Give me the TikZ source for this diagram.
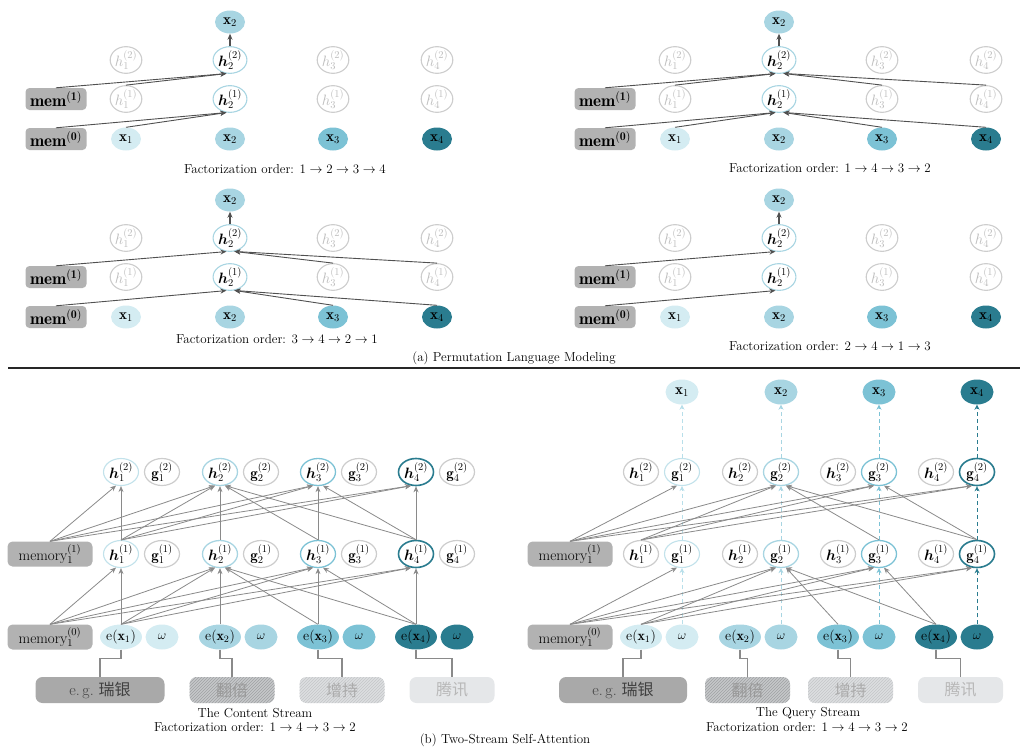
\RequirePackage{fix-cm}
\documentclass[tikz,border=0pt]{standalone}
\usepackage{fontspec}
\usepackage{bm}
\newfontfamily\cjk{Noto Sans CJK SC}
\usetikzlibrary{shapes.geometric, arrows.meta, patterns}

\definecolor{tokA}{HTML}{D4ECF2}
\definecolor{tokB}{HTML}{A8D5E2}
\definecolor{tokC}{HTML}{7CC2D5}
\definecolor{tokD}{HTML}{2A7C8F}
\definecolor{ringA}{HTML}{C2E2EB}
\definecolor{dashA}{HTML}{B8DFEA}
\definecolor{ringgray}{HTML}{CDCDCD}
\definecolor{ringtext}{HTML}{BDBDBD}
\definecolor{memgray}{HTML}{B2B2B2}
\definecolor{arrowdark}{HTML}{505050}
\definecolor{arrowgray}{HTML}{8A8A8A}
\definecolor{wordA}{HTML}{A9A9A9}
\definecolor{wordB}{HTML}{C6C8CA}
\definecolor{wordBline}{HTML}{9FA1A3}
\definecolor{wordC}{HTML}{DCDEE0}
\definecolor{wordCline}{HTML}{C4C6C8}
\definecolor{wordD}{HTML}{E5E7E9}

\tikzstyle{token} = [ellipse, inner sep=0pt, minimum width=30pt, minimum height=23pt, font=\fontsize{15}{17}\selectfont]
\tikzstyle{ring} = [ellipse, inner sep=0pt, minimum width=30pt, minimum height=23pt, draw=ringgray, line width=1.1pt, fill=white, text=ringtext, font=\fontsize{15}{17}\selectfont]
\tikzstyle{membox} = [rectangle, rounded corners=4pt, minimum width=61pt, minimum height=22pt, inner sep=0pt, fill=memgray, font=\fontsize{17}{19}\selectfont]
\tikzstyle{membig} = [membox, minimum width=85pt, minimum height=25pt, rounded corners=5pt, font=\fontsize{15}{17}\selectfont]
\tikzstyle{cell} = [ellipse, inner sep=0pt, minimum width=35pt, minimum height=27pt, line width=1.2pt, fill=white, font=\fontsize{15}{17}\selectfont]
\tikzstyle{embed} = [ellipse, inner sep=0pt, minimum width=33pt, minimum height=25pt, font=\fontsize{14}{16}\selectfont]
\tikzstyle{wordbox} = [rectangle, rounded corners=7pt, minimum width=85pt, minimum height=26pt, inner sep=0pt, font=\fontsize{16}{18}\selectfont]
\tikzstyle{caption} = [font=\fontsize{13}{15}\selectfont]
\tikzstyle{ctx} = [-{Stealth[length=6pt,width=5pt]}, draw=arrowdark, line width=0.9pt]
\tikzstyle{attn} = [-{Stealth[length=6pt,width=5pt]}, draw=arrowgray, line width=0.8pt]
\tikzstyle{qdash} = [-{Stealth[length=5pt,width=5pt]}, dashed, dash pattern=on 4pt off 3pt, line width=1pt]
\tikzstyle{feed} = [draw=arrowgray, line width=1.3pt]

% one panel of the permutation figure
\newcommand{\permnodes}{%
  \node[token, fill=tokB] (out) at (230,22) {$\mathbf{x}_2$};
  \foreach \i/\px in {1/126, 3/333, 4/437} {
    \node[ring] (h\i2) at (\px,60) {$h_\i^{(2)}$};
    \node[ring] (h\i1) at (\px,99) {$h_\i^{(1)}$};
  }
  \node[ring, draw=tokB, text=black] (h22) at (230,60) {$\bm{h}_2^{(2)}$};
  \node[ring, draw=tokB, text=black] (h21) at (230,99) {$\bm{h}_2^{(1)}$};
  \foreach \i/\px/\c in {1/126/tokA, 2/230/tokB, 3/333/tokC, 4/437/tokD}
    \node[token, fill=\c] (x\i) at (\px,139) {$\mathbf{x}_\i$};
  \node[membox] (m1) at (56,99) {$\mathbf{mem}^{\mathbf{(1)}}$};
  \node[membox] (m0) at (56,139) {$\mathbf{mem}^{\mathbf{(0)}}$};
  \draw[ctx, line width=1.2pt] (h22.north) -- (out.south);
}

\begin{document}
\begin{tikzpicture}[x=1pt, y=-1pt]
    \useasboundingbox (0,0) rectangle (1027,747);

    % (a) top left
    \begin{scope}[name prefix=tl-]
      \permnodes
      \draw[ctx] (m0.north) -- (h21.-105);
      \draw[ctx] (x1.north) -- (h21.-105);
      \draw[ctx] (m1.north) -- (h22.-105);
      \draw[ctx] (h11.north) -- (h22.-105);
      \node[caption] (order) at (285,169) {Factorization order: $1\rightarrow2\rightarrow3\rightarrow4$};
    \end{scope}

    % (a) top right
    \begin{scope}[shift={(549,0)}, name prefix=tr-]
      \permnodes
      \draw[ctx] (m0.north) -- (h21.-105);
      \draw[ctx] (x1.north) -- (h21.-105);
      \draw[ctx] (x3.north) -- (h21.-72);
      \draw[ctx] (x4.north) -- (h21.-72);
      \draw[ctx] (m1.north) -- (h22.-105);
      \draw[ctx] (h11.north) -- (h22.-105);
      \draw[ctx] (h31.north) -- (h22.-72);
      \draw[ctx] (h41.north) -- (h22.-72);
      \node[caption] (order) at (281,168) {Factorization order: $1\rightarrow4\rightarrow3\rightarrow2$};
    \end{scope}

    % (a) bottom left
    \begin{scope}[shift={(0,178)}, name prefix=bl-]
      \permnodes
      \draw[ctx] (m0.north) -- (h21.-105);
      \draw[ctx] (x3.north) -- (h21.-72);
      \draw[ctx] (x4.north) -- (h21.-72);
      \draw[ctx] (m1.north) -- (h22.-105);
      \draw[ctx] (h31.north) -- (h22.-72);
      \draw[ctx] (h41.north) -- (h22.-72);
      \node[caption] (order) at (277,161) {Factorization order: $3\rightarrow4\rightarrow2\rightarrow1$};
    \end{scope}

    % (a) bottom right
    \begin{scope}[shift={(549,178)}, name prefix=br-]
      \permnodes
      \draw[ctx] (m0.north) -- (h21.-105);
      \draw[ctx] (m1.north) -- (h22.-105);
      \node[caption] (order) at (281,168) {Factorization order: $2\rightarrow4\rightarrow1\rightarrow3$};
    \end{scope}

    \node[caption] (alabel) at (514,358) {(a) Permutation Language Modeling};
    \draw[line width=1.3pt, draw=black!85] (8,368) -- (1020,368);

    % (b) content stream
    \begin{scope}[name prefix=cs-]
      \foreach \i/\hx/\c/\rc/\lw in {1/121/tokA/ringA/1.1pt, 2/220/tokB/tokB/1.3pt, 3/318/tokC/tokC/1.3pt, 4/416/tokD/tokD/1.6pt} {
        \node[cell, draw=\rc, line width=\lw] (h\i2) at (\hx,472) {$\bm{h}_\i^{(2)}$};
        \node[cell, draw=ringgray] (g\i2) at (\hx+41,472) {$\mathbf{g}_\i^{(2)}$};
        \node[cell, draw=\rc, line width=\lw] (h\i1) at (\hx,554) {$\bm{h}_\i^{(1)}$};
        \node[cell, draw=ringgray] (g\i1) at (\hx+41,554) {$\mathbf{g}_\i^{(1)}$};
        \node[embed, fill=\c] (e\i) at (\hx,637) {$\mathrm{e}(\mathbf{x}_\i)$};
        \node[embed, fill=\c, font=\fontsize{13}{15}\selectfont] (w\i) at (\hx+41,637) {$\omega$};
      }
      \node[membig] (m1) at (50,554) {memory$_1^{(1)}$};
      \node[membig] (m0) at (50,637) {memory$_1^{(0)}$};

      % layer 0 -> 1
      \foreach \s/\t/\a in {m0/h11/-110, e1/h11/-90, m0/h21/-110, e1/h21/-110, e2/h21/-90, e3/h21/-70, e4/h21/-70,
                            m0/h31/-110, e1/h31/-110, e3/h31/-90, e4/h31/-70, m0/h41/-110, e1/h41/-110, e4/h41/-90}
        \draw[attn] (\s.north) -- (\t.\a);
      % layer 1 -> 2
      \foreach \s/\t/\a in {m1/h12/-110, h11/h12/-90, m1/h22/-110, h11/h22/-110, h21/h22/-90, h31/h22/-70, h41/h22/-70,
                            m1/h32/-110, h11/h32/-110, h31/h32/-90, h41/h32/-70, m1/h42/-110, h11/h42/-110, h41/h42/-90}
        \draw[attn] (\s.north) -- (\t.\a);

      % input words
      \node[wordbox, minimum width=129pt, fill=wordA, text=black!75] (b1) at (100,690) {e.\,g.\ {\cjk 瑞银}};
      \node[wordbox, preaction={fill=wordB}, pattern=north east lines, pattern color=wordBline, text=black!40] (b2) at (232,690) {\cjk 翻倍};
      \node[wordbox, preaction={fill=wordC}, pattern=north east lines, pattern color=wordCline, text=black!33] (b3) at (342,690) {\cjk 增持};
      \node[wordbox, fill=wordD, text=black!28] (b4) at (452,690) {\cjk 腾讯};
      \foreach \i in {1,...,4}
        \draw[feed] (e\i.south) -- ++(0,9) -| (b\i.north);

      \node[caption] (title) at (255,713) {The Content Stream};
      \node[caption] (order) at (255,727) {Factorization order: $1\rightarrow4\rightarrow3\rightarrow2$};
    \end{scope}

    % (b) query stream
    \begin{scope}[shift={(520,0)}, name prefix=qs-]
      \foreach \i/\hx/\c/\rc/\dc/\lw in {1/121/tokA/ringA/dashA/1.1pt, 2/220/tokB/tokB/tokB/1.3pt, 3/318/tokC/tokC/tokC/1.3pt, 4/416/tokD/tokD/tokD/1.6pt} {
        \node[embed, fill=\c, font=\fontsize{15}{17}\selectfont] (x\i) at (\hx+41,392) {$\mathbf{x}_\i$};
        \node[cell, draw=ringgray] (h\i2) at (\hx,472) {$\bm{h}_\i^{(2)}$};
        \node[cell, draw=\rc, line width=\lw] (g\i2) at (\hx+41,472) {$\mathbf{g}_\i^{(2)}$};
        \node[cell, draw=ringgray] (h\i1) at (\hx,554) {$\bm{h}_\i^{(1)}$};
        \node[cell, draw=\rc, line width=\lw] (g\i1) at (\hx+41,554) {$\mathbf{g}_\i^{(1)}$};
        \node[embed, fill=\c] (e\i) at (\hx,637) {$\mathrm{e}(\mathbf{x}_\i)$};
        \node[embed, fill=\c, font=\fontsize{13}{15}\selectfont] (w\i) at (\hx+41,637) {$\omega$};
        \draw[qdash, draw=\dc] (w\i.north) -- (g\i1.south);
        \draw[qdash, draw=\dc] (g\i1.north) -- (g\i2.south);
        \draw[qdash, draw=\dc] (g\i2.north) -- (x\i.south);
      }
      \node[membig] (m1) at (50,554) {memory$_1^{(1)}$};
      \node[membig] (m0) at (50,637) {memory$_1^{(0)}$};

      % layer 0 -> 1
      \foreach \s/\t/\a in {m0/g11/-110, m0/g21/-110, e1/g21/-110, e3/g21/-70, e4/g21/-70,
                            m0/g31/-110, e1/g31/-110, e4/g31/-70, m0/g41/-110, e1/g41/-110}
        \draw[attn] (\s.north) -- (\t.\a);
      % layer 1 -> 2
      \foreach \s/\t/\a in {m1/g12/-110, m1/g22/-110, h11/g22/-110, g31/g22/-70, g41/g22/-70,
                            m1/g32/-110, h11/g32/-110, g41/g32/-70, m1/g42/-110, h11/g42/-110}
        \draw[attn] (\s.north) -- (\t.\a);

      % input words
      \node[wordbox, minimum width=128pt, fill=wordA, text=black!75] (b1) at (103,690) {e.\,g.\ {\cjk 瑞银}};
      \node[wordbox, preaction={fill=wordB}, pattern=north east lines, pattern color=wordBline, text=black!40] (b2) at (227.5,690) {\cjk 翻倍};
      \node[wordbox, preaction={fill=wordC}, pattern=north east lines, pattern color=wordCline, text=black!33] (b3) at (330.5,690) {\cjk 增持};
      \node[wordbox, fill=wordD, text=black!28] (b4) at (440.5,690) {\cjk 腾讯};
      \foreach \i in {1,...,4}
        \draw[feed] (e\i.south) -- ++(0,9) -| (b\i.north);

      \node[caption] (title) at (288,713) {The Query Stream};
      \node[caption] (order) at (287,727) {Factorization order: $1\rightarrow4\rightarrow3\rightarrow2$};
    \end{scope}

    \node[caption] (blabel) at (505,740) {(b) Two-Stream Self-Attention};
\end{tikzpicture}
\end{document}
